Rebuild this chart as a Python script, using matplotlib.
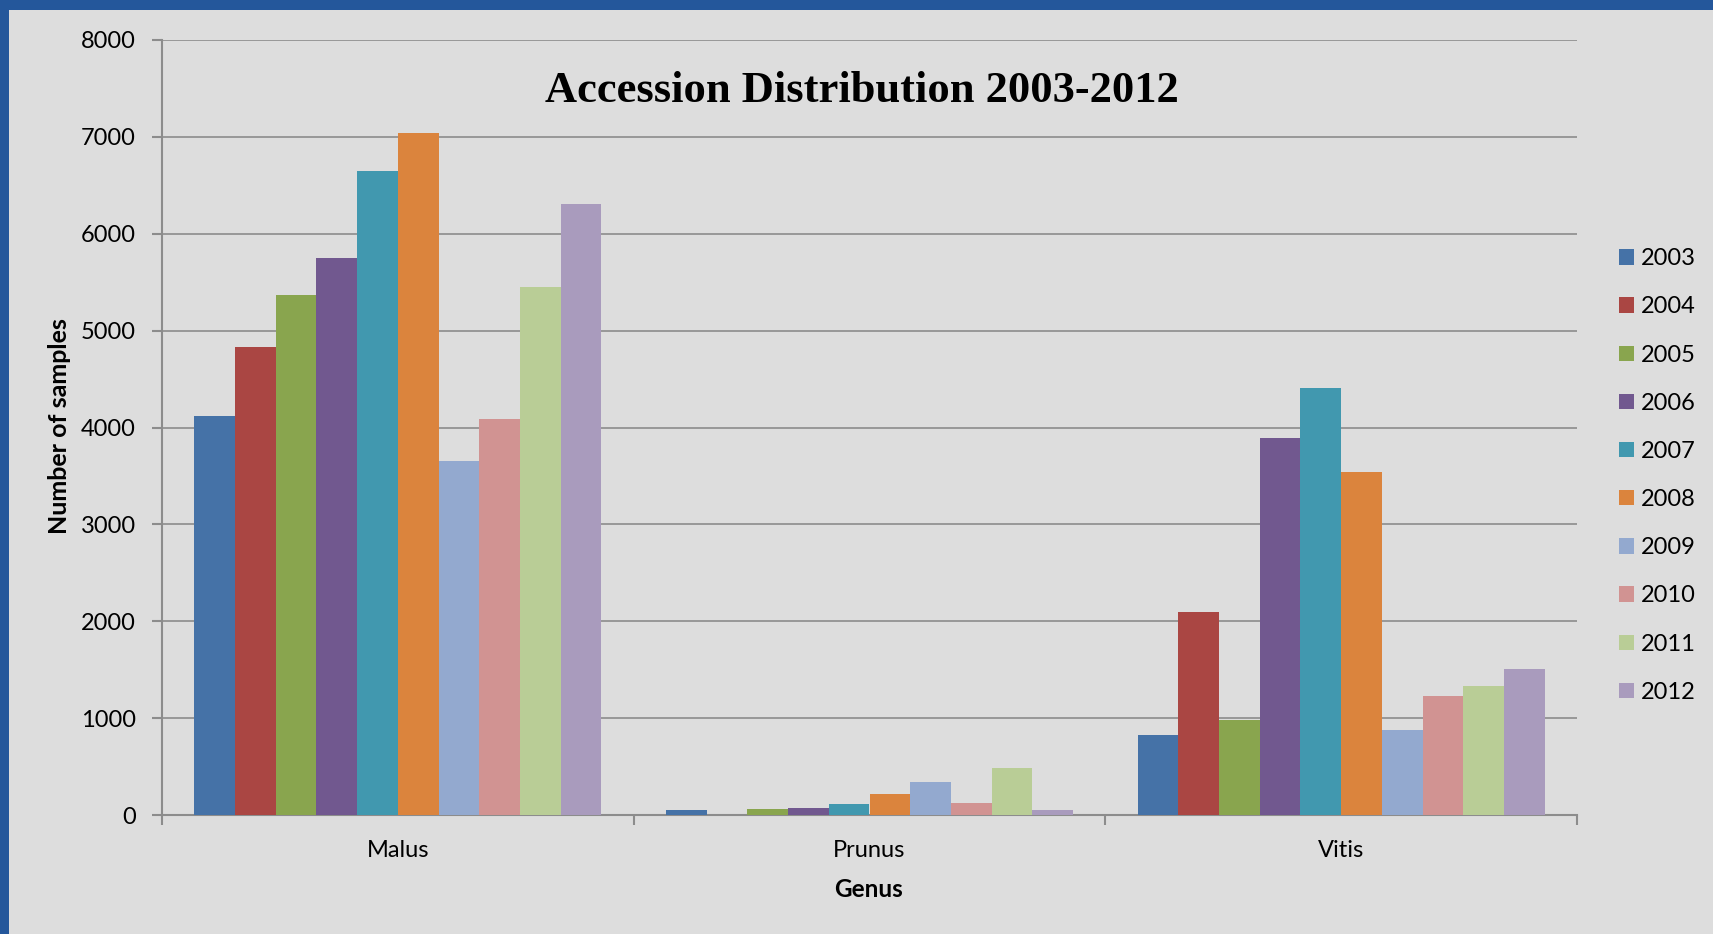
import numpy as np
import matplotlib
matplotlib.use("Agg")
import matplotlib.pyplot as plt
from matplotlib.patches import Rectangle

genera = ["Malus", "Prunus", "Vitis"]
years = ["2003", "2004", "2005", "2006", "2007", "2008", "2009", "2010", "2011", "2012"]

# samples per year, order: Malus, Prunus, Vitis
y2003 = [4120, 55, 825]
y2004 = [4830, 0, 2095]
y2005 = [5370, 65, 980]
y2006 = [5745, 75, 3890]
y2007 = [6650, 115, 4410]
y2008 = [7040, 220, 3540]
y2009 = [3650, 345, 880]
y2010 = [4085, 125, 1225]
y2011 = [5450, 490, 1335]
y2012 = [6310, 55, 1505]
series = [y2003, y2004, y2005, y2006, y2007, y2008, y2009, y2010, y2011, y2012]

colors = ["#4572A7", "#AA4643", "#89A54E", "#71588F", "#4198AF",
          "#DB843D", "#93A9CF", "#D19392", "#B9CD96", "#A99BBD"]

bg = "#DDDDDD"
grid_c = "#8C8C8C"
border_c = "#24579B"
body_font = "Lato"

W, H = 1713, 934
fig = plt.figure(figsize=(W / 100, H / 100), dpi=100)
fig.patch.set_facecolor(bg)
# blue slide edges, left and top
fig.patches.append(Rectangle((0, 0), 9 / W, 1, transform=fig.transFigure,
                             facecolor=border_c, edgecolor="none"))
fig.patches.append(Rectangle((0, 1 - 10 / H), 1, 10 / H, transform=fig.transFigure,
                             facecolor=border_c, edgecolor="none"))

ax = fig.add_axes([162 / W, (H - 815) / H, (1577 - 162) / W, (815 - 40) / H])
ax.set_facecolor(bg)

n = len(series)
bw = 0.0863
x = np.arange(len(genera)) + 0.5
for i, (vals, c) in enumerate(zip(series, colors)):
    ax.bar(x + (i - (n - 1) / 2) * bw, vals, width=bw, color=c, label=years[i], zorder=3)

ax.set_xlim(0, 3)
ax.set_ylim(0, 8000)
ax.set_yticks(np.arange(0, 8001, 1000))
ax.yaxis.grid(True, color=grid_c, linewidth=1.2, zorder=1)
ax.set_axisbelow(True)

ax.set_xticks([0, 1, 2, 3])
ax.set_xticklabels([])
ax.set_xticks(x, minor=True)
ax.set_xticklabels(genera, minor=True, fontsize=17, fontfamily=body_font)
ax.tick_params(axis="x", which="major", direction="out", length=7, width=1.5, color=grid_c)
ax.tick_params(axis="x", which="minor", length=0, pad=18)
ax.tick_params(axis="y", direction="out", length=7, width=1.5, color=grid_c, pad=12,
               labelsize=17)
for lab in ax.get_yticklabels():
    lab.set_fontfamily(body_font)

for s in ["top", "right"]:
    ax.spines[s].set_visible(False)
for s in ["left", "bottom"]:
    ax.spines[s].set_color(grid_c)
    ax.spines[s].set_linewidth(1.5)

ax.set_ylabel("Number of samples", fontsize=18, fontweight="bold", fontfamily=body_font,
              va="center")
ax.yaxis.set_label_coords(-0.0721, 0.502)
ax.set_xlabel("Genus", fontsize=17.5, fontweight="bold", fontfamily=body_font, va="center")
ax.xaxis.set_label_coords(0.4996, -0.0955)

fig.text(862 / W, 1 - 102 / H, "Accession Distribution 2003-2012", ha="center", va="baseline",
         fontsize=32, fontweight="bold", fontfamily="Liberation Serif")

leg = fig.legend(loc="center left", bbox_to_anchor=(1619 / W, 1 - 475.5 / H),
                 frameon=False, prop={"family": body_font, "size": 17},
                 handlelength=0.63, handleheight=0.63, handletextpad=0.3,
                 labelspacing=1.15, borderpad=0, borderaxespad=0)

fig.savefig("out.png", dpi=100, facecolor=fig.get_facecolor())
